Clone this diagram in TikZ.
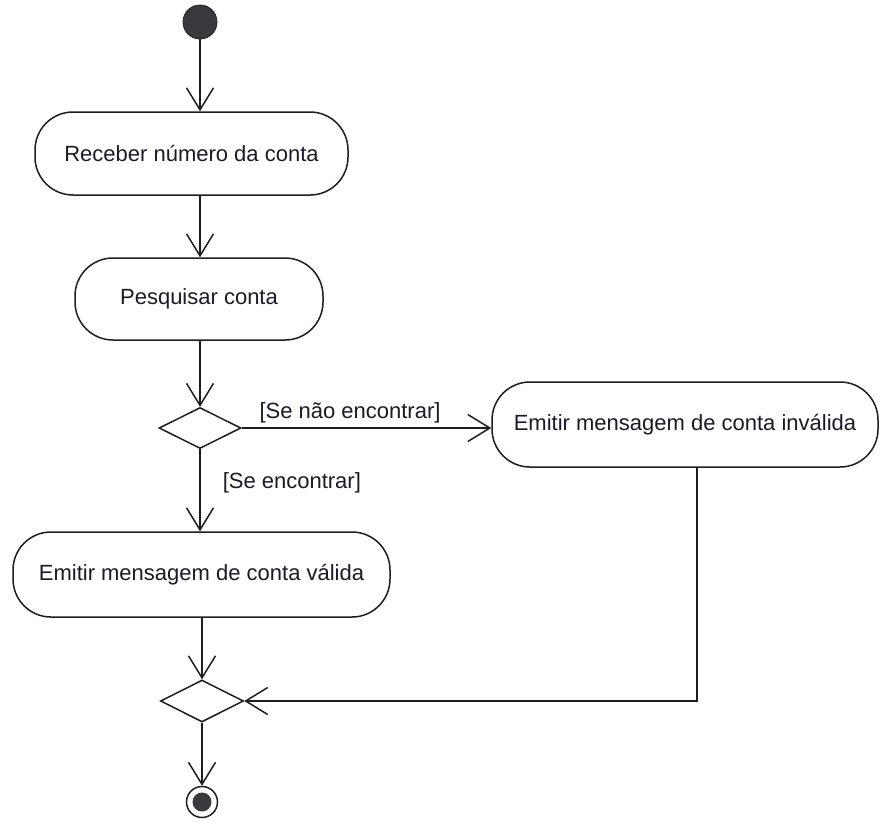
\documentclass[tikz,border=0pt]{standalone}
\usepackage{fontspec}
\setmainfont{Liberation Sans}
\usetikzlibrary{arrows.meta,shapes.geometric}
\definecolor{inkline}{HTML}{1E1E22}
\definecolor{inktext}{HTML}{1A1A28}
\definecolor{dotfill}{HTML}{3A3A3E}
\begin{document}
\begin{tikzpicture}[x=1pt,y=-1pt,line width=1.5pt,
  action/.style={draw=inkline, rectangle, rounded corners=38pt, inner sep=0pt,
                 text=inktext, font=\fontsize{22}{24}\selectfont},
  choice/.style={draw=inkline, diamond, minimum width=82pt, minimum height=41pt,
                 inner sep=0pt},
  startdot/.style={circle, fill=dotfill, draw=inkline, line width=0.8pt, inner sep=0pt},
  endring/.style={circle, draw=inkline, minimum size=31pt, inner sep=0pt},
  flow/.style={draw=inkline, -{Straight Barb[length=22pt,width=27pt,line width=1.5pt]}},
  guard/.style={text=inktext, font=\fontsize{22}{24}\selectfont, inner sep=0pt}
]
\useasboundingbox (0,0) rectangle (889,823);

% activity nodes
\node[startdot, minimum size=34pt] (start) at (200,22) {};
\node[action, minimum width=313pt, minimum height=83pt] (recv) at (191.5,153.5) {Receber número da conta};
\node[action, minimum width=248pt, minimum height=82pt] (find) at (199,299) {Pesquisar conta};
\node[choice] (d1) at (200,428) {};
\node[action, minimum width=386pt, minimum height=85pt] (bad) at (685,424.5) {Emitir mensagem de conta inválida};
\node[action, minimum width=377pt, minimum height=85pt] (good) at (201.5,574.5) {Emitir mensagem de conta válida};
\node[choice, minimum width=83pt, minimum height=42pt] (d2) at (202,701) {};
\node[endring] (stop) at (202,802) {};
\node[startdot, minimum size=19pt, line width=0pt, draw=none] (stopdot) at (stop) {};

% guard labels
\node[guard] (g1) at (350,413) {[Se não encontrar]};
\node[guard, anchor=west] (g2) at (222,483) {[Se encontrar]};

% control flow
\coordinate (ret) at (697,701);
\draw[flow] (start) -- (recv.north -| start);
\draw[flow] (recv.south -| start) -- (find.north -| start);
\draw[flow] (find.south -| d1) -- (d1.north);
\draw[flow] (d1.east) -- (bad.west |- d1.east);
\draw[flow] (d1.south) -- (good.north -| d1);
\draw[flow] (good.south -| d2) -- (d2.north);
\draw[flow] (bad.south -| ret) -- (ret) -- (d2.east);
\draw[flow] (d2.south) -- (stop);
\end{tikzpicture}
\end{document}
